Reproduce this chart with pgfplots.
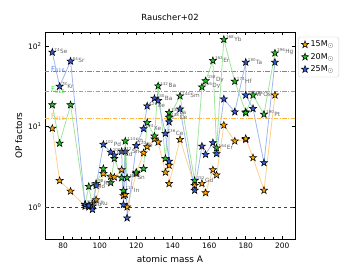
\documentclass[border=0pt]{standalone}
\usepackage{pgfplots}
\pgfplotsset{compat=1.18}
\usepackage{pgfplotstable}
\usepackage{fontspec}
\setmainfont{DejaVu Sans}

\definecolor{starora}{RGB}{255,165,0}
\definecolor{stargrn}{RGB}{40,190,40}
\definecolor{starblu}{RGB}{55,90,215}
\definecolor{lineora}{RGB}{255,208,140}
\definecolor{linegrn}{RGB}{160,228,160}
\definecolor{lineblu}{RGB}{160,182,240}
\definecolor{refora}{RGB}{255,180,60}
\definecolor{refgrn}{RGB}{70,215,70}
\definecolor{refblu}{RGB}{90,130,240}

\newcommand{\iso}[2]{\textsuperscript{#1}#2}

\pgfdeclareplotmark{fstar}{%
 \pgfpathmoveto{\pgfpointpolar{90}{\pgfplotmarksize}}%
 \pgfpathlineto{\pgfpointpolar{126}{0.40\pgfplotmarksize}}%
 \pgfpathlineto{\pgfpointpolar{162}{\pgfplotmarksize}}%
 \pgfpathlineto{\pgfpointpolar{198}{0.40\pgfplotmarksize}}%
 \pgfpathlineto{\pgfpointpolar{234}{\pgfplotmarksize}}%
 \pgfpathlineto{\pgfpointpolar{270}{0.40\pgfplotmarksize}}%
 \pgfpathlineto{\pgfpointpolar{306}{\pgfplotmarksize}}%
 \pgfpathlineto{\pgfpointpolar{342}{0.40\pgfplotmarksize}}%
 \pgfpathlineto{\pgfpointpolar{18}{\pgfplotmarksize}}%
 \pgfpathlineto{\pgfpointpolar{54}{0.40\pgfplotmarksize}}%
 \pgfpathclose
 \pgfusepathqfillstroke}

% A  O(15)  G(20)  B(25)  M(max)  L
\pgfplotstableread{
A   O     G     B     M     L
74  9.5   18.6  84    84    \iso{74}{Se}
78  2.13  6.2   31.6  31.6  \iso{78}{Kr}
84  1.57  18.6  65    65    \iso{84}{Sr}
92  1.02  1.08  1.07  1.08  \iso{92}{Mo}
94  1.0   1.8   1.04  1.8   \iso{94}{Mo}
96  1.1   1.02  0.93  1.1   \iso{96}{Ru}
98  1.23  1.96  1.85  1.96  \iso{98}{Ru}
102 2.6   3.0   6.0   6.0   \iso{102}{Pd}
106 2.4   2.0   4.8   4.8   \iso{106}{Cd}
108 2.35  4.0   4.4   4.4   \iso{108}{Cd}
112 2.9   2.3   4.9   4.9   \iso{112}{Sn}
113 1.38  1.6   1.07  1.6   \iso{113}{In}
114 1.43  6.6   4.9   6.6   \iso{114}{Sn}
115 1.0   2.3   0.73  2.3   \iso{115}{Sn}
120 2.6   2.7   5.8   5.8   \iso{120}{Te}
124 4.7   3.0   9.4   9.4   \iso{124}{Xe}
126 5.6   11.2  18    18    \iso{126}{Xe}
130 7.0   7.6   22.4  22.4  \iso{130}{Ba}
132 6.4   32    21    32    \iso{132}{Ba}
136 2.7   4.0   8.2   8.2   \iso{136}{Ce}
138 3.3   14.9  3.7   14.9  \iso{138}{La}
138 1.95  13    11.4  13    \iso{138}{Ce}
144 6.9   24    16.5  24    \iso{144}{Sm}
152 1.85  2.13  1.61  2.13  \iso{152}{Gd}
156 1.96  31    5.7   31    \iso{156}{Dy}
158 1.5   37    4.5   37    \iso{158}{Dy}
162 2.9   66    6.3   66    \iso{162}{Er}
164 2.5   5.4   4.6   5.4   \iso{164}{Er}
168 10.4  121   22    121   \iso{168}{Yb}
174 6.6   36.5  15.2  36.5  \iso{174}{Hf}
180 6.9   15.2  63    63    \iso{180}{Ta}
180 7.1   14.8  24.6  24.6  \iso{180}{W}
184 4.1   24.6  16.7  24.6  \iso{184}{Os}
190 1.61  14.2  3.55  14.2  \iso{190}{Pt}
196 24.6  82    63    82    \iso{196}{Hg}
}\data

\begin{document}
\begin{tikzpicture}
\path[use as bounding box] (0,0) rectangle (359bp,269bp);
\begin{axis}[
  at={(45bp,30bp)}, anchor=south west,
  scale only axis, width=250bp, height=207bp,
  ymode=log, log basis y=10,
  xmin=70, xmax=207, ymin=0.4, ymax=150,
  xtick={80,100,...,200}, minor x tick num=3,
  ytick={1,10,100},
  yticklabel={10\textsuperscript{\pgfmathprintnumber[fixed,precision=0]{\tick}}},
  /pgf/number format/assume math mode=true,
  tick align=inside, xtick pos=both, ytick pos=both,
  major tick length=3.5bp, minor tick length=2bp,
  every tick/.style={black, line width=0.6pt},
  axis line style={line width=0.8pt},
  tick label style={font=\fontsize{7.5}{8.5}\selectfont},
  xlabel={atomic mass A}, ylabel={OP factors},
  xlabel style={font=\fontsize{9}{10}\selectfont, at={(axis description cs:0.5,-0.095)}, anchor=center},
  ylabel style={font=\fontsize{9}{10}\selectfont, at={(axis description cs:-0.105,0.5)}, anchor=center},
  title={Rauscher+02},
  title style={font=\fontsize{8.5}{10}\selectfont, at={(axis description cs:0.5,1.04)}, anchor=center},
  legend style={at={(1.013,0.977)}, anchor=north west, draw=black!20, rounded corners=1.5pt,
    font=\fontsize{8}{9}\selectfont, inner xsep=3pt, inner ysep=2pt, row sep=1pt},
  legend cell align=left,
  clip=true,
]
% reference lines
\addplot[forget plot, dashed, color=black!75, line width=0.6pt] coordinates {(70,1) (207,1)};
\addplot[forget plot, dash pattern=on 4.5pt off 1.5pt on 1pt off 1.5pt, color=refblu, line width=0.9pt] coordinates {(70,48.3) (207,48.3)};
\addplot[forget plot, dash pattern=on 4.5pt off 1.5pt on 1pt off 1.5pt, color=refgrn, line width=0.9pt] coordinates {(70,27) (207,27)};
\addplot[forget plot, dash pattern=on 4.5pt off 1.5pt on 1pt off 1.5pt, color=refora, line width=0.9pt] coordinates {(70,12.5) (207,12.5)};
% connecting lines
\addplot[forget plot, color=lineora, line width=0.8pt, mark=none] table[x=A, y=O] {\data};
\addplot[forget plot, color=linegrn, line width=0.8pt, mark=none] table[x=A, y=G] {\data};
\addplot[forget plot, color=lineblu, line width=0.8pt, mark=none] table[x=A, y=B] {\data};
% stars
\addplot[only marks, mark=fstar, mark size=3.8bp, mark options={fill=starora, draw=black, line width=0.5pt}] table[x=A, y=O] {\data};
\addlegendentry{15M$_{\odot}$}
\addplot[only marks, mark=fstar, mark size=3.8bp, mark options={fill=stargrn, draw=black, line width=0.5pt}] table[x=A, y=G] {\data};
\addlegendentry{20M$_{\odot}$}
\addplot[only marks, mark=fstar, mark size=3.8bp, mark options={fill=starblu, draw=black, line width=0.5pt}] table[x=A, y=B] {\data};
\addlegendentry{25M$_{\odot}$}
% isotope labels
\addplot[forget plot, draw=none, mark=none,
  point meta=explicit symbolic,
  nodes near coords,
  every node near coord/.append style={anchor=south west, font=\fontsize{5.8}{6.5}\selectfont,
     text=black!62, inner sep=0pt, xshift=2bp, yshift=-2bp}]
  table[x=A, y=M, meta=L] {\data};
% F016 labels
\node[anchor=base west, text=refblu, font=\fontsize{7}{8}\selectfont, inner sep=0pt] at (axis cs:73.3,48.3) {F\textsubscript{016}};
\node[anchor=base west, text=refgrn, font=\fontsize{7}{8}\selectfont, inner sep=0pt] at (axis cs:73.3,27) {F\textsubscript{016}};
\node[anchor=base west, text=refora, font=\fontsize{7}{8}\selectfont, inner sep=0pt] at (axis cs:73.3,12.5) {F\textsubscript{016}};
\end{axis}
\end{tikzpicture}
\end{document}
